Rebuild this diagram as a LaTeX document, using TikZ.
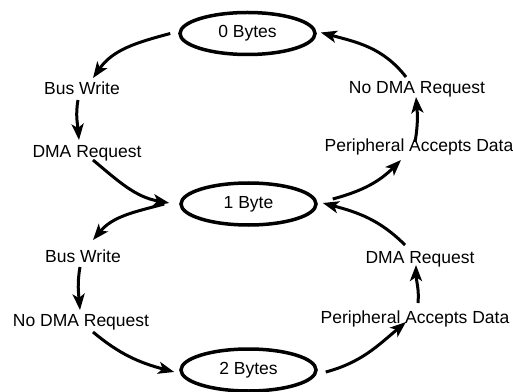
\documentclass[tikz,border=0pt]{standalone}
\usepackage{fontspec}
\setmainfont{Liberation Sans}
\usetikzlibrary{shapes.geometric,arrows.meta}
\begin{document}
\begin{tikzpicture}[x=1pt,y=1pt,
  state/.style={ellipse,draw,line width=3.5pt,minimum width=135pt,minimum height=42pt,inner sep=0pt,font=\fontsize{17.5}{20}\selectfont},
  lbl/.style={anchor=base,inner sep=0pt,font=\fontsize{17.5}{20}\selectfont},
  arr/.style={line width=3pt,-{Stealth[length=16pt,width=12pt,inset=4pt]}}]
\useasboundingbox (0,0) rectangle (513,391);
% states
\node[state] (e0) at (247.5,357.5) {0 Bytes};
\node[state] (e1) at (248.5,187) {1 Byte};
\node[state] (e2) at (248.5,21) {2 Bytes};
% labels
\node[lbl] (bw1) at (82,296) {Bus Write};
\node[lbl] (dr1) at (87,233) {DMA Request};
\node[lbl] (nd1) at (417,297) {No DMA Request};
\node[lbl] (pa1) at (419,239) {Peripheral Accepts Data};
\node[lbl] (bw2) at (83,129) {Bus Write};
\node[lbl] (nd2) at (81,65) {No DMA Request};
\node[lbl] (dr2) at (420,128) {DMA Request};
\node[lbl] (pa2) at (415,68) {Peripheral Accepts Data};
% upper loop
\draw[arr] ([xshift=-8pt]e0.west) to[out=195,in=55] ([shift={(11,17)}]bw1.base);
\draw[arr] ([shift={(-4,-5)}]bw1.base) to[out=260,in=95] ([shift={(-8,18)}]dr1.base);
\draw[arr] ([shift={(6,-2)}]dr1.base) to[out=-40,in=170] ([shift={(-10,1)}]e1.west);
\draw[arr] ([shift={(15,5)}]e1.east) to[out=15,in=225] ([shift={(-18,-8)}]pa1.base);
\draw[arr] ([shift={(-4,10)}]pa1.base) to[out=80,in=275] ([shift={(-1,-3)}]nd1.base);
\draw[arr] ([shift={(-11,17)}]nd1.base) to[out=128,in=-15] ([shift={(4,1)}]e0.east);
% lower loop
\draw[arr] ([shift={(-15,0)}]e1.west) to[out=195,in=50] ([shift={(10,22)}]bw2.base);
\draw[arr] ([shift={(-3,-5)}]bw2.base) to[out=260,in=95] ([shift={(-1,16)}]nd2.base);
\draw[arr] ([shift={(12,-6)}]nd2.base) to[out=-40,in=165] ([shift={(-5,-2)}]e2.west);
\draw[arr] ([shift={(8,-2)}]e2.east) to[out=15,in=220] ([shift={(-9,1)}]pa2.base);
\draw[arr] ([shift={(3,20)}]pa2.base) to[out=85,in=270] ([shift={(-4,-2)}]dr2.base);
\draw[arr] ([shift={(-15,18)}]dr2.base) to[out=135,in=-15] ([shift={(5,1)}]e1.east);
\end{tikzpicture}
\end{document}
